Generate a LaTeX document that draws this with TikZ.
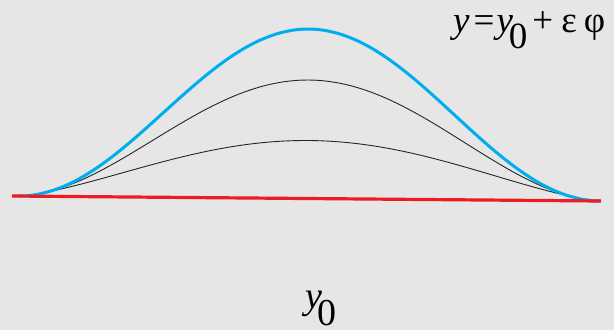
\documentclass[tikz,border=0pt]{standalone}
\usepackage{fontspec}
\setmainfont{Liberation Serif}
\usetikzlibrary{positioning}
\definecolor{bggrey}{HTML}{E6E6E6}
\definecolor{curveblue}{HTML}{00AEEF}
\definecolor{basered}{HTML}{ED1C24}

\begin{document}
\begin{tikzpicture}[x=1pt,y=-1pt,
  declare function={basey(\x)=196+(\x-12)/589*5;
    bumpf(\x,\p)=exp(\p*ln(max(sin((\x-18)/582*180),0.02)));},
  bump/.style={line width=0.9pt, black!85, line join=round},
  eqlabel/.style={inner sep=0pt, font=\fontsize{37}{42}\selectfont}]
\fill[bggrey] (0,0) rectangle (614,330);
\useasboundingbox (0,0) rectangle (614,330);
% family of varied curves over the base line
\draw[bump] plot[domain=18:600,samples=150] (\x,{basey(\x)-58*bumpf(\x,1.4)});
\draw[bump] plot[domain=18:600,samples=150] (\x,{basey(\x)-118.5*bumpf(\x,1.8)});
\draw[curveblue, line width=3pt] plot[domain=18:600,samples=150] (\x,{basey(\x)-169.5*bumpf(\x,2.0)});
% base curve y_0
\coordinate (start) at (12,196);
\coordinate (end) at (601,201);
\draw[basered, line width=3.2pt] (start) -- (end);
\node[eqlabel, anchor=base west] (eq) at (453,32)
  {\textit{y}\hspace{4pt}=\hspace{2pt}\textit{y}\hspace{-4pt}\raisebox{-16pt}{0}\hspace{5pt}+\hspace{8pt}ε\hspace{7pt}φ};
\node[eqlabel, font=\fontsize{38}{42}\selectfont, anchor=base west] (yzero) at (305,308)
  {\textit{y}\hspace{-5pt}\raisebox{-17pt}{0}};
\end{tikzpicture}
\end{document}
